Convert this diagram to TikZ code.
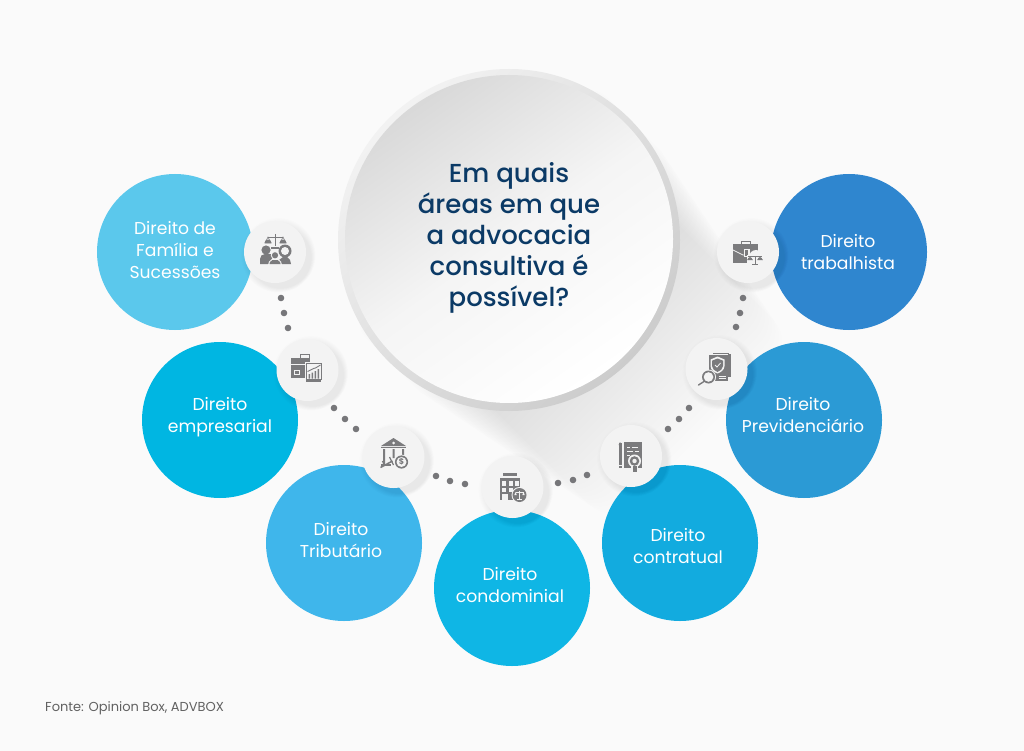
\documentclass[tikz,border=0pt]{standalone}
\usepackage{fontspec}
\setmainfont{Poppins}
\newfontfamily\medfont{Poppins Medium}
\definecolor{bgc}{HTML}{FAFAFA}
\definecolor{icn}{HTML}{7B7B7D}
\definecolor{disc}{HTML}{F3F3F3}
\definecolor{navy}{HTML}{0B3A66}
\definecolor{dotc}{HTML}{77777A}
\definecolor{k1}{HTML}{5BC8EC}
\definecolor{k2}{HTML}{00B6E2}
\definecolor{k3}{HTML}{3FB6EB}
\definecolor{k4}{HTML}{0FB6E5}
\definecolor{k5}{HTML}{12ABDF}
\definecolor{k6}{HTML}{2B9AD5}
\definecolor{k7}{HTML}{2F86CF}
\tikzset{
  bigc/.style={circle,minimum size=156pt,inner sep=0pt,fill=#1},
  lab/.style={text=white,align=center,font=\fontsize{17.2}{22}\selectfont,inner sep=0pt},
  disco/.style={circle,minimum size=62pt,inner sep=0pt,fill=disc},
  dotn/.style={circle,minimum size=6.6pt,inner sep=0pt,fill=dotc},
  ic/.style={fill=icn,draw=none},
  ich/.style={fill=disc,draw=none},
  icl/.style={draw=icn,line width=0.9pt,fill=none},
  iclw/.style={draw=disc,line width=0.9pt,fill=none},
  softshadow/.pic={
    \foreach \k in {1,...,9}{\fill[black,opacity=0.008] (3+\k*0.3,3+\k*0.3) circle ({31+7-\k*0.8});}
  },
  family/.pic={
    \draw[icl] (0,-18)--(0,-6) (-7,-15)--(8,-15);
    \fill[ic] (-4,-5) rectangle (4,-3.5);
    \draw[icl,line width=0.6pt] (-7,-15)--(-10,-9)--(-4,-9)--cycle (8,-15)--(5,-9)--(11,-9)--cycle;
    \fill[ic] (-10.5,-9) arc[start angle=180,end angle=360,radius=3.5] -- cycle (4.5,-9) arc[start angle=180,end angle=360,radius=3.5] -- cycle;
    \fill[ic] (-9,-2) circle (4.6);
    \fill[ic] (-15,12) -- (-15,7) arc[start angle=180,end angle=270,radius=5] -- (-3,2) -- (-3,12) -- cycle;
    \fill[ic] (10,-1) circle (6.5);
    \fill[ich] (10,-1) circle (4);
    \fill[ic] (3,12) -- (4,8) -- (8,5) -- (12,5) -- (15,8) -- (16,12) -- cycle;
    \fill[ich] (0,3.3) circle (4.2);
    \fill[ic] (0,3.3) circle (3.1);
    \fill[ich] (-7,13) -- (-6,9.5) -- (-3,7) -- (3,7) -- (6,9.5) -- (7,13) -- cycle;
    \fill[ic] (-5.5,12) -- (-5,10) -- (-2.5,8) -- (2.5,8) -- (5,10) -- (5.5,12) -- cycle;
  },
  company/.pic={
    \draw[icl,line width=1.1pt] (-7,-12) -- (-7,-15.5) -- (2,-15.5) -- (2,-12);
    \fill[ic] (-17,-12) rectangle (2,-6.5);
    \fill[ic] (-17,-5.5) rectangle (0,8);
    \fill[ich] (-13.5,-0.5) rectangle (-8,5);
    \fill[ic] (-12.5,0.5) rectangle (-9,4);
    \fill[ich] (-3,-8) rectangle (15,13);
    \fill[ic] (-2,-7) rectangle (14,10);
    \fill[ich] (-1,-6) rectangle (13,9);
    \fill[ic] (-2,10) rectangle (13,12);
    \fill[ic] (1,4) rectangle (2.7,8.5) (4,2.5) rectangle (5.7,8.5) (7,1) rectangle (8.7,8.5) (10,-1) rectangle (11.7,8.5);
    \draw[icl] (0,1.5) -- (6,-1.5) -- (8,-2) -- (13,-5);
  },
  bank/.pic={
    \fill[ic] (0,-19) -- (12.5,-11) -- (-12.5,-11) -- cycle;
    \fill[ic] (-12.5,-10.3) rectangle (12.5,-8.8);
    \fill[ich] (0,-14) circle (1.5);
    \fill[ic] (-10.5,-8) rectangle (-8.5,7) (-1,-8) rectangle (1,1) (8.5,-8) rectangle (10.5,-1);
    \fill[ic] (-13,7) rectangle (-3,8.8);
    \draw[icl,line width=1.5pt] (-13,10.5) -- (-1,4);
    \draw[icl,line width=1.2pt] (-11,4) -- (-9,9) (-4,0) -- (0,8);
    \fill[ich] (8,5) circle (7.4);
    \fill[ic] (8,5) circle (6.6);
    \fill[ich] (8,5) circle (5);
    \node[text=icn,font=\fontsize{8}{8}\selectfont\bfseries,inner sep=0pt] (bankcoin) at (8,5) {\$};
  },
  condo/.pic={
    \fill[ic] (-10,-14) rectangle (4,-10.8);
    \fill[ic] (-13,-9) rectangle (7,13);
    \foreach \xx in {-10.5,-4,2.5}{\fill[ich] (\xx,-6) rectangle ++(4,4.5);}
    \foreach \xx in {-10.5,-4}{\fill[ich] (\xx,0.5) rectangle ++(4,4.5);}
    \fill[ich] (-10.5,7) rectangle (-4.5,13);
    \fill[ich] (7,8) circle (8);
    \fill[ic] (7,8) circle (7);
    \draw[iclw,line width=0.5pt] (7,3.5)--(7,12) (3,5)--(11,5) (4.5,12)--(9.5,12);
    \fill[ich] (1.8,8) -- (3,5) -- (4.2,8) -- cycle (9.8,8) -- (11,5) -- (12.2,8) -- cycle;
  },
  contract/.pic={
    \fill[ic] (-12.5,-13) rectangle (-9.5,9);
    \fill[ic] (-12.5,-11) -- (-11,-14) -- (-9.5,-11) -- cycle;
    \fill[ic] (-12.5,9.5) rectangle (-9.5,11.5);
    \fill[ic] (-7.5,-14) rectangle (11,12);
    \draw[iclw,line width=1pt] (-4,-9) -- (-1,-9) (1,-9) -- (7,-9) (-4,-5) -- (2,-5) (4,-5) -- (8,-5) (-4,-1) -- (-1,-1) (1,-1) -- (6,-1);
    \fill[ich] (3.5,5) circle (6.5);
    \fill[ic] (3.5,5) circle (4.8);
    \fill[ich] (3.5,5) circle (2.2);
    \fill[ich] (0,10) rectangle (7,16);
    \fill[ic] (1.5,9.5) rectangle (5.5,15.5);
  },
  shield/.pic={
    \fill[ic] (-4,-16) rectangle (12,-15);
    \fill[ic] (11,-15) rectangle (14,8);
    \fill[ic] (-8,-14) rectangle (11,12);
    \fill[ich] (1,-12.5) -- (8,-9.5) -- (8,-3) .. controls (8,1) and (4,3.5) .. (1,4.5) .. controls (-2,3.5) and (-6,1) .. (-6,-3) -- (-6,-9.5) -- cycle;
    \fill[ic] (1,-10.5) -- (6.5,-8.3) -- (6.5,-3) .. controls (6.5,0) and (3.5,2) .. (1,3) .. controls (-1.5,2) and (-4.5,0) .. (-4.5,-3) -- (-4.5,-8.3) -- cycle;
    \draw[iclw,line width=0.8pt] (-1.5,-4) -- (0.5,-2) -- (4,-6);
    \draw[iclw,line width=0.8pt] (2,7) -- (9,7) (2,9.5) -- (9,9.5);
    \fill[ich] (-8,8) circle (7.5);
    \fill[ic] (-8,8) circle (6.5);
    \fill[ich] (-8,8) circle (4.8);
    \draw[icl,line width=1.4pt,line cap=round] (-12.5,12.5) -- (-18,16);
  },
  labor/.pic={
    \draw[icl,line width=1pt] (-7,-8) -- (-7,-10.5) -- (2,-10.5) -- (2,-8);
    \fill[ic] (-15,-8) rectangle (10,11);
    \draw[iclw,line width=0.8pt] (-15,-2) -- (-5,3) -- (4,3);
    \fill[ich] (-4.5,-3) rectangle (1.5,5);
    \fill[ic] (-3.2,-1.8) rectangle (0.2,3.8);
    \fill[ich] (-1,3) rectangle (15,12.5);
    \fill[ich] (8,5) circle (7);
    \draw[icl,line width=0.7pt] (0,4.5) -- (14,4.5) (7,4.5) -- (7,12) (4,12) -- (10,12);
    \fill[ic] (-0.5,8) arc[start angle=180,end angle=360,radius=2.5] -- cycle (9.5,8) arc[start angle=180,end angle=360,radius=2.5] -- cycle;
    \draw[icl,line width=0.5pt] (2,4.5) -- (-0.5,8) (2,4.5) -- (4.5,8) (12,4.5) -- (9.5,8) (12,4.5) -- (14.5,8);
  }
}
\begin{document}
\begin{tikzpicture}[x=1pt,y=-1pt]
\useasboundingbox (0,0) rectangle (1024,751);
\fill[bgc] (0,0) rectangle (1024,751);
% long soft shadow: stacked translucent bands
\begin{scope}[rotate around={-45:(509,240)}]
  \foreach \k in {0,...,34}{
    \fill[black,opacity=0.0045,rounded corners=30pt] (450,{240-171+1.2*\k}) rectangle ({509+70+\k*6},{240+171-1.2*\k});
  }
\end{scope}
% central disc
\node[circle,minimum size=342pt,inner sep=0pt,top color=black!5,bottom color=black!20,shading angle=45] (ring) at (509,240) {};
\node[circle,minimum size=328pt,inner sep=0pt,top color=black!15,bottom color=white,middle color=white!96!black,shading angle=35] (hub) at (509,239) {};
\node[text=navy,align=center,font=\medfont\fontsize{26}{31}\selectfont,inner sep=0pt] (hubtext) at (509,238) {Em quais\\áreas em que\\a advocacia\\consultiva é\\possível?};
% big circles
\node[bigc=k1] (c1) at (175,252) {};
\node[bigc=k2] (c2) at (220,420) {};
\node[bigc=k3] (c3) at (344,543) {};
\node[bigc=k4] (c4) at (512,588) {};
\node[bigc=k5] (c5) at (680,543) {};
\node[bigc=k6] (c6) at (804,420) {};
\node[bigc=k7] (c7) at (849,252) {};
% connector dots
\foreach \n/\x/\y in {a1/281/298,a2/284/313,a3/288/328,b1/334/408,b2/345/419,b3/356/429,d1/436/476,d2/450/481,d3/465/484,e1/558/483,e2/573/480,e3/587/475,f1/668/429,f2/679/419,f3/689/408,g1/736/327,g2/740/313,g3/743/298}{
  \node[dotn] (\n) at (\x,\y) {};
}
% icon discs
\foreach \n/\x/\y/\p in {i1/275/252/family,i2/307.5/370/company,i3/393.5/457/bank,i4/512.5/487/condo,i5/631/456/contract,i6/716.5/369/shield,i7/748/252/labor}{
  \pic at (\x,\y) {softshadow};
  \node[disco] (\n) at (\x,\y) {};
  \pic at (\x,\y) {\p};
}
% labels
\node[lab] (t1) at (175,250) {Direito de\\Família e\\Sucessões};
\node[lab] (t2) at (220,417) {Direito\\empresarial};
\node[lab] (t3) at (341,540) {Direito\\Tributário};
\node[lab] (t4) at (510,585) {Direito\\condominial};
\node[lab] (t5) at (678,546) {Direito\\contratual};
\node[lab] (t6) at (803,415) {Direito\\Previdenciário};
\node[lab] (t7) at (848,252) {Direito\\trabalhista};
\node[anchor=west,text=black!62,font=\fontsize{13}{15}\selectfont,inner sep=0pt] (src) at (45,708) {Fonte: Opinion Box, ADVBOX};
\end{tikzpicture}
\end{document}
